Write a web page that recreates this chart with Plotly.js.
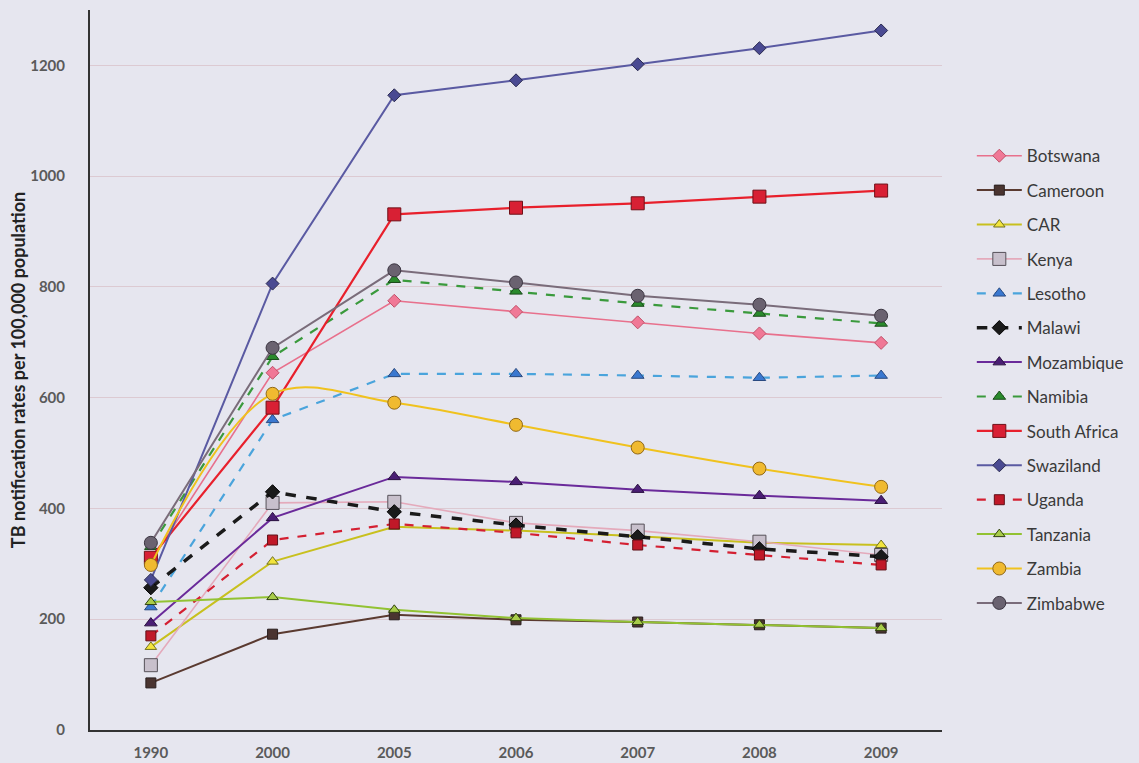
<!DOCTYPE html>
<html>
<head>
<meta charset="utf-8">
<script src="https://cdn.plot.ly/plotly-3.0.1.min.js"></script>
<style>html,body{margin:0;padding:0;background:#e6e6ef;}#chart{width:1139px;height:763px;}</style>
</head>
<body>
<div id="chart"></div>
<script>
var years = ["1990","2000","2005","2006","2007","2008","2009"];
var countries = ["Botswana","Cameroon","CAR","Kenya","Lesotho","Malawi","Mozambique","Namibia","South Africa","Swaziland","Uganda","Tanzania","Zambia","Zimbabwe"];
var botswana    = [305, 645, 775, 755, 736, 716, 699];
var cameroon    = [85, 173, 208, 199, 195, 190, 184];
var car         = [150, 304, 367, 360, 350, 338, 334];
var kenya       = [117, 410, 412, 374, 360, 340, 316];
var lesotho     = [222, 560, 643, 643, 640, 636, 640];
var malawi      = [257, 430, 394, 370, 349, 327, 313];
var mozambique  = [193, 383, 457, 448, 434, 423, 414];
var namibia     = [331, 674, 813, 792, 770, 752, 734];
var southAfrica = [311, 582, 931, 943, 951, 963, 974];
var swaziland   = [271, 806, 1146, 1173, 1202, 1231, 1263];
var uganda      = [170, 343, 372, 356, 334, 316, 298];
var tanzania    = [231, 240, 217, 202, 195, 190, 184];
var zambia      = [298, 607, 591, 551, 510, 472, 439];
var zimbabwe    = [338, 690, 830, 808, 784, 768, 748];
var yTicks = [0, 200, 400, 600, 800, 1000, 1200];

var series = [botswana, cameroon, car, kenya, lesotho, malawi, mozambique, namibia, southAfrica, swaziland, uganda, tanzania, zambia, zimbabwe];
var styles = [
  {lc:"#e8708c", lw:1.6, dash:"solid", sym:"diamond", mc:"#f07896", ml:"#c05068", ms:10},
  {lc:"#5a3a30", lw:2, dash:"solid", sym:"square", mc:"#4a3430", ml:"#2a2020", ms:10},
  {lc:"#c8c01e", lw:2, dash:"solid", sym:"triangle-up", mc:"#f2e43c", ml:"#707020", ms:10},
  {lc:"#e4aabb", lw:1.6, dash:"solid", sym:"square", mc:"#c8c0cc", ml:"#555058", ms:13},
  {lc:"#4aa4dc", lw:2.2, dash:"dash", sym:"triangle-up", mc:"#3a78d0", ml:"#2a4a80", ms:11},
  {lc:"#1a1a1a", lw:3.5, dash:"dash", sym:"diamond", mc:"#1a1a1a", ml:"#000000", ms:11},
  {lc:"#6a2a9a", lw:2, dash:"solid", sym:"triangle-up", mc:"#4a1e74", ml:"#2a1040", ms:11},
  {lc:"#3a9a3c", lw:2.2, dash:"dash", sym:"triangle-up", mc:"#2a8a2c", ml:"#1a4a1a", ms:11},
  {lc:"#e8202c", lw:2.2, dash:"solid", sym:"square", mc:"#d82034", ml:"#701018", ms:13},
  {lc:"#5a5aa2", lw:2, dash:"solid", sym:"diamond", mc:"#4a4a92", ml:"#2a2a50", ms:10},
  {lc:"#d42032", lw:2.2, dash:"dash", sym:"square", mc:"#c01828", ml:"#601018", ms:10},
  {lc:"#92c232", lw:2, dash:"solid", sym:"triangle-up", mc:"#a8cc4a", ml:"#304010", ms:10},
  {lc:"#f0c21e", lw:2, dash:"solid", sym:"circle", mc:"#f0ba30", ml:"#906818", ms:13},
  {lc:"#7a6c7a", lw:2, dash:"solid", sym:"circle", mc:"#6a6270", ml:"#3a3440", ms:13}
];

var traces = countries.map(function(name, i){
  var s = styles[i];
  return {
    type: "scatter", mode: "lines+markers", name: name,
    x: years, y: series[i], legendgroup: "g" + i,
    line: {color: s.lc, width: s.lw, dash: s.dash, shape: name === "Zambia" ? "spline" : "linear", smoothing: 1},
    marker: {symbol: s.sym, size: s.ms, color: s.mc, line: {color: s.ml, width: 1}}
  };
});

var layout = {
  width: 1139, height: 763,
  paper_bgcolor: "#e6e6ef", plot_bgcolor: "#e6e6ef",
  margin: {l: 90, r: 197, t: 10, b: 33},
  font: {family: "Lato, 'Open Sans', sans-serif", color: "#555"},
  showlegend: true,
  legend: {
    x: 1.035, y: 0.822, xanchor: "left", yanchor: "top",
    bgcolor: "rgba(0,0,0,0)", font: {size: 17, color: "#3a3a3a", family: "Lato, sans-serif"},
    tracegroupgap: 9.3, itemwidth: 45
  },
  xaxis: {
    type: "category", range: [-0.5, 6.5],
    showgrid: false, zeroline: false,
    showline: true, linecolor: "#333", linewidth: 2,
    ticks: "", ticklabelstandoff: 8,
    tickfont: {size: 15, color: "#5a5a5a", family: "Lato, sans-serif", weight: "bold"}
  },
  yaxis: {
    range: [0, 1300], tickvals: yTicks, ticktext: yTicks.map(String),
    showgrid: true, gridcolor: "#dccad2", gridwidth: 1,
    zeroline: false, showline: true, linecolor: "#333", linewidth: 2,
    ticks: "", ticklabelstandoff: 20,
    tickfont: {size: 15, color: "#5a5a5a", family: "Lato, sans-serif", weight: "bold"},
    title: {text: "TB notification rates per 100,000 population", standoff: 0,
            font: {size: 18, color: "#222", family: "Lato, sans-serif", weight: "bold"}}
  }
};

Plotly.newPlot("chart", traces, layout, {displayModeBar: false, staticPlot: true});
</script>
</body>
</html>
